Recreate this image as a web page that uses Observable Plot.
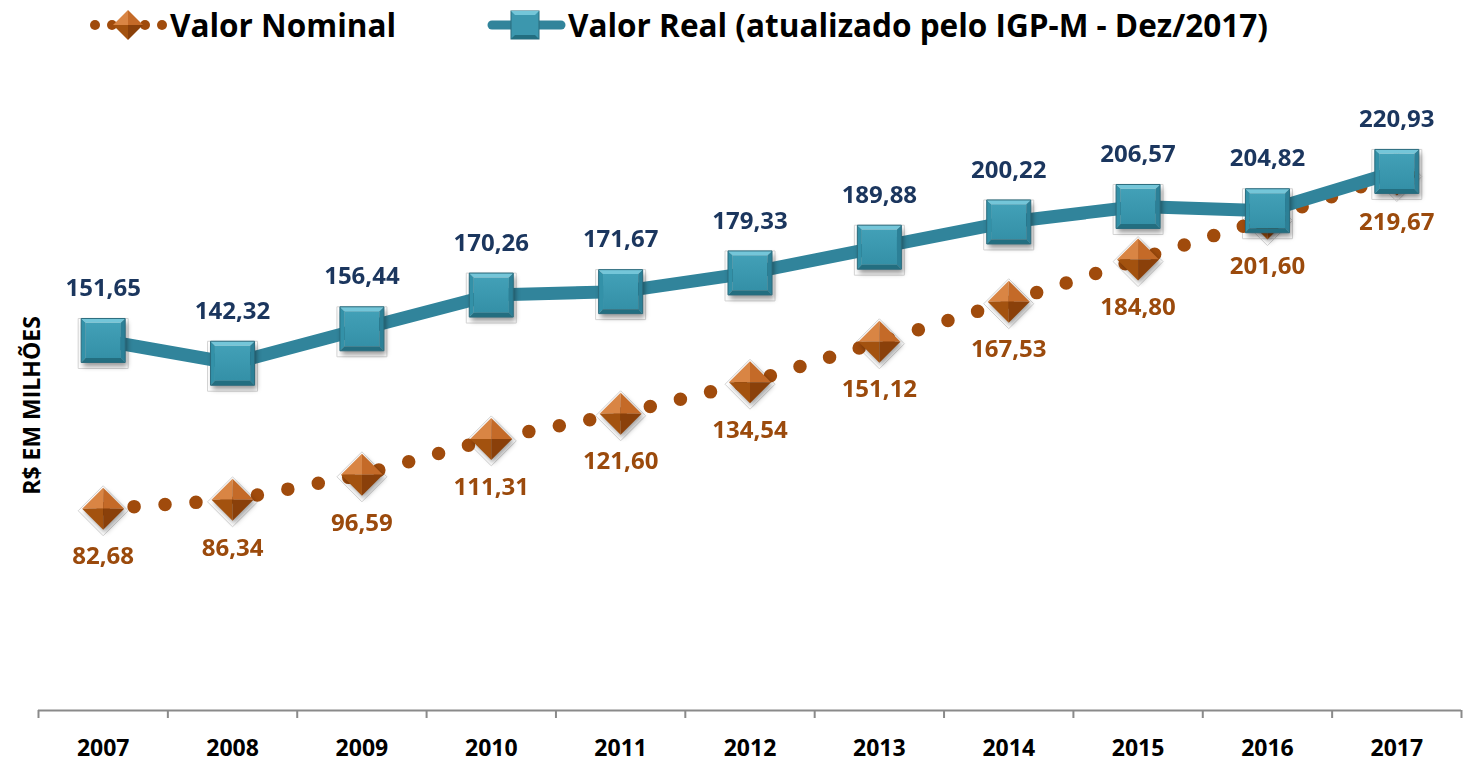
<!DOCTYPE html>
<html><head><meta charset="utf-8">
<script src="https://cdn.jsdelivr.net/npm/d3@7"></script>
<script src="https://cdn.jsdelivr.net/npm/@observablehq/plot@0.6"></script>
<style>
body{margin:0;background:#fff;font-family:"Open Sans",sans-serif;}
#legend{position:relative;height:50px;width:1466px;}
.item{position:absolute;top:0;height:50px;}
.lt{position:absolute;top:0;height:50px;line-height:50px;font-weight:700;font-size:31.5px;color:#000;white-space:nowrap;}
</style></head><body>
<div id="legend">
  <svg class="item" style="left:88px" width="84" height="50">
    <circle cx="7" cy="25" r="5" fill="#A04B0C"/>
    <circle cx="24" cy="25" r="5" fill="#A04B0C"/>
    <circle cx="57" cy="25" r="5" fill="#A04B0C"/>
    <circle cx="74" cy="25" r="5" fill="#A04B0C"/>
    <polygon points="40,10 25,25 40,25" fill="#D98544"/>
    <polygon points="40,10 55,25 40,25" fill="#C46A28"/>
    <polygon points="25,25 40,40 40,25" fill="#A3520F"/>
    <polygon points="55,25 40,40 40,25" fill="#8A400A"/>
  </svg>
  <div class="lt" style="left:170px">Valor Nominal</div>
  <svg class="item" style="left:484px" width="84" height="50">
    <line x1="8" y1="25" x2="77" y2="25" stroke="#31849B" stroke-width="9" stroke-linecap="round"/>
    <rect x="27" y="11" width="28" height="28" fill="#3C97AE" stroke="#2B6C7E" stroke-width="1"/>
    <polygon points="27,11 55,11 51,15 31,15" fill="#74C6D9"/>
    <polygon points="27,39 55,39 51,35 31,35" fill="#236E80"/>
  </svg>
  <div class="lt" style="left:568px">Valor Real (atualizado pelo IGP-M - Dez/2017)</div>
</div>
<div id="chart"></div>
<script>
const years = [2007, 2008, 2009, 2010, 2011, 2012, 2013, 2014, 2015, 2016, 2017];
const nominal = [82.68, 86.34, 96.59, 111.31, 121.60, 134.54, 151.12, 167.53, 184.80, 201.60, 219.67];
const real = [151.65, 142.32, 156.44, 170.26, 171.67, 179.33, 189.88, 200.22, 206.57, 204.82, 220.93];
const yTitle = "R$ EM MILHÕES";

const data = years.map((year, i) => ({year, nominal: nominal[i], real: real[i]}));
const boundaries = [...years.map(y => y - 0.5), years[years.length - 1] + 0.5];
const fmt = v => v.toFixed(2).replace(".", ",");

// custom symbol built from unit polygon, scaled so that k = r
function poly(pts) {
  return {draw(ctx, size) {
    const k = Math.sqrt(size / Math.PI);
    ctx.moveTo(pts[0][0] * k, pts[0][1] * k);
    for (let i = 1; i < pts.length; i++) ctx.lineTo(pts[i][0] * k, pts[i][1] * k);
    ctx.closePath();
  }};
}
const b = 0.8;
const sqFull = poly([[-1,-1],[1,-1],[1,1],[-1,1]]);
const sqTop = poly([[-1,-1],[1,-1],[b,-b],[-b,-b]]);
const sqBot = poly([[-1,1],[1,1],[b,b],[-b,b]]);
const sqLeft = poly([[-1,-1],[-b,-b],[-b,b],[-1,1]]);
const sqRight = poly([[1,-1],[b,-b],[b,b],[1,1]]);
const sqFace = poly([[-b,-b],[b,-b],[b,b],[-b,b]]);
const dmFull = poly([[0,-1],[1,0],[0,1],[-1,0]]);
const dmTL = poly([[0,-1],[-1,0],[0,0]]);
const dmTR = poly([[0,-1],[1,0],[0,0]]);
const dmBL = poly([[-1,0],[0,1],[0,0]]);
const dmBR = poly([[1,0],[0,1],[0,0]]);

const SQ = 22, DM = 21;
const common = {x: "year"};

const chart = Plot.plot({
  width: 1466,
  height: 717,
  marginLeft: 38,
  marginRight: 5,
  marginTop: 50,
  marginBottom: 57,
  style: {fontFamily: "Open Sans, sans-serif", color: "#8a8a8a", background: "white", overflow: "visible"},
  x: {domain: [boundaries[0], boundaries[boundaries.length - 1]], ticks: boundaries, tickSize: 8, tickFormat: () => "", label: null},
  y: {domain: [0, 250], axis: null},
  marks: [
    Plot.ruleY([0], {stroke: "#8a8a8a", strokeWidth: 2}),
    // halos
    Plot.dot(data, {...common, y: "nominal", symbol: dmFull, r: DM + 4, dy: 2, fill: "none", stroke: "#d4d4d4", strokeWidth: 1}),
    Plot.dot(data, {...common, y: "real", symbol: sqFull, r: SQ + 3, dy: 3, fill: "none", stroke: "#d4d4d4", strokeWidth: 1}),
    // nominal dotted line
    Plot.line(data, {...common, y: "nominal", stroke: "#A04B0C", strokeWidth: 13.5, strokeDasharray: "0 31", strokeLinecap: "round"}),
    // nominal diamonds
    Plot.dot(data, {...common, y: "nominal", symbol: dmFull, r: DM, dx: 2, dy: 3, fill: "rgba(0,0,0,0.35)", ariaDescription: "shadow"}),
    Plot.dot(data, {...common, y: "nominal", symbol: dmTL, r: DM, fill: "#D98544"}),
    Plot.dot(data, {...common, y: "nominal", symbol: dmTR, r: DM, fill: "#C46A28"}),
    Plot.dot(data, {...common, y: "nominal", symbol: dmBL, r: DM, fill: "#A3520F"}),
    Plot.dot(data, {...common, y: "nominal", symbol: dmBR, r: DM, fill: "#8A400A"}),
    // real line
    Plot.line(data, {...common, y: "real", stroke: "#31849B", strokeWidth: 13}),
    // real squares
    Plot.dot(data, {...common, y: "real", symbol: sqFull, r: SQ, dx: 2, dy: 4, fill: "rgba(0,0,0,0.4)", ariaDescription: "shadow"}),
    Plot.dot(data, {...common, y: "real", symbol: sqFace, r: SQ, fill: "url(#sqFace)"}),
    Plot.dot(data, {...common, y: "real", symbol: sqTop, r: SQ, fill: "#74C6D9"}),
    Plot.dot(data, {...common, y: "real", symbol: sqLeft, r: SQ, fill: "#3391A8"}),
    Plot.dot(data, {...common, y: "real", symbol: sqRight, r: SQ, fill: "#2C8097"}),
    Plot.dot(data, {...common, y: "real", symbol: sqBot, r: SQ, fill: "#236E80"}),
    Plot.dot(data, {...common, y: "real", symbol: sqFull, r: SQ, fill: "none", stroke: "#2B6C7E", strokeWidth: 1}),
    // labels
    Plot.text(data, {...common, y: "real", text: d => fmt(d.real), dy: -52, fill: "#1B365E", fontWeight: "bold", fontSize: 24}),
    Plot.text(data, {...common, y: "nominal", text: d => fmt(d.nominal), dy: 48, fill: "#9B4A0C", fontWeight: "bold", fontSize: 24}),
    // year labels
    Plot.text(years, {x: d => d, frameAnchor: "bottom", dy: 45, text: d => String(d), fill: "#000", fontWeight: "bold", fontSize: 23}),
    // y title
    Plot.text([yTitle], {frameAnchor: "left", textAnchor: "middle", text: d => d, rotate: -90, dx: -6, fill: "#000", fontWeight: "bold", fontSize: 23})
  ]
});

const ns = "http://www.w3.org/2000/svg";
const svg = chart.tagName.toLowerCase() === "svg" ? chart : chart.querySelector("svg");
const defs = document.createElementNS(ns, "defs");
defs.innerHTML = '<linearGradient id="sqFace" x1="0" y1="0" x2="0" y2="1"><stop offset="0" stop-color="#42A0B7"/><stop offset="1" stop-color="#3490A7"/></linearGradient>';
svg.insertBefore(defs, svg.firstChild);
svg.querySelectorAll('g[aria-description="shadow"]').forEach(g => g.style.filter = "blur(2.5px)");
svg.querySelectorAll('g[aria-label^="x-axis"] path, g[aria-label^="x-axis"] line').forEach(el => { el.setAttribute("stroke-width", 2); el.setAttribute("stroke", "#8a8a8a"); });
document.getElementById("chart").appendChild(chart);
</script>
</body></html>
